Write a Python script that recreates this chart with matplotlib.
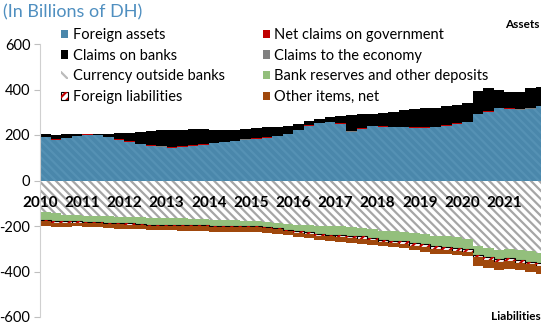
import numpy as np
import matplotlib.pyplot as plt
from matplotlib.patches import Patch

# Quarterly data, 2010Q1 - 2021Q4, billions of DH
foreign_assets = [190, 180, 185, 195, 202, 198, 190, 180,
                  170, 160, 152, 147, 145, 148, 152, 158,
                  163, 168, 172, 178, 183, 188, 195, 205,
                  220, 240, 252, 256, 250, 215, 228, 238,
                  236, 234, 233, 232, 232, 234, 240, 248,
                  258, 292, 302, 320, 316, 312, 314, 326]
net_claims_gov = [2, 2, 1, 2, 2, 2, 2, 2,
                  2, 2, 2, 2, 2, 2, 2, 2,
                  -2, 2, 1, 2, 2, 2, 2, 1,
                  -2, 2, -3, 2, 2, -2, 2, 2,
                  2, 2, 2, 2, 2, -3, 2, 3,
                  -3, 2, 2, -3, 2, -2, 2, 2]
claims_economy = [0.5] * 48
claims_on_banks = [13, 16, 16, 7, 1, 4, 13, 25,
                   38, 52, 64, 71, 75, 73, 70, 65,
                   58, 52, 50, 46, 45, 43, 39, 33,
                   28, 20, 18, 22, 33, 71, 61, 51,
                   58, 66, 73, 79, 84, 85, 83, 80,
                   80, 101, 104, 78, 70, 76, 89, 82]

# liabilities (plotted below zero)
currency = [137, 145, 150, 152, 155, 158, 158, 160,
            160, 162, 163, 164, 165, 167, 168, 170,
            172, 173, 175, 178, 180, 183, 186, 190,
            193, 196, 198, 200, 202, 204, 210, 215,
            222, 224, 226, 230, 235, 240, 245, 250,
            255, 290, 298, 302, 300, 305, 312, 318]
reserves = [38, 35, 30, 28, 27, 26, 27, 28,
            29, 30, 31, 30, 29, 28, 27, 27,
            27, 26, 24, 22, 21, 22, 24, 26,
            27, 30, 34, 38, 37, 36, 36, 37,
            38, 40, 42, 44, 46, 47, 48, 48,
            45, 36, 38, 40, 40, 42, 45, 44]
foreign_liab = [5] * 24 + [7, 7, 8, 8, 10, 10, 10, 10] + [12] * 16
other_items = [22, 20, 18, 17, 17, 16, 17, 18,
               18, 18, 19, 19, 19, 20, 20, 20,
               20, 21, 21, 22, 22, 20, 18, 18,
               18, 18, 20, 22, 22, 22, 22, 20,
               16, 16, 18, 20, 20, 20, 18, 18,
               18, 40, 38, 36, 36, 34, 34, 36]

years = list(range(2010, 2022))

c_blue = '#4a87ab'
c_red = '#c00000'
c_gray = '#808080'
c_green = '#93bf7c'
c_brown = '#a0480c'

plt.rcParams['font.family'] = ['Lato', 'DejaVu Sans']
plt.rcParams['axes.unicode_minus'] = False
plt.rcParams['hatch.linewidth'] = 1.6

fig = plt.figure(figsize=(5.44, 3.25), dpi=100)
ax = fig.add_axes([40 / 544, 8 / 325, 501 / 544, 273 / 325])

x = 2010 + np.arange(48) * 0.25
w = 0.25
fa = np.array(foreign_assets, float)
gov = np.array(net_claims_gov, float)
eco = np.array(claims_economy, float)
cob = np.array(claims_on_banks, float)

# assets
pos = np.zeros(48)
ax.bar(x, fa, w, bottom=pos, align='edge', color=c_blue, edgecolor='#5591b4',
       hatch='\\\\\\\\', linewidth=0)
pos += fa
gp = np.clip(gov, 0, None)
ax.bar(x, gp, w, bottom=pos, align='edge', color=c_red, linewidth=0)
pos += gp
ax.bar(x, eco, w, bottom=pos, align='edge', color=c_gray, linewidth=0)
pos += eco
ax.bar(x, cob, w, bottom=pos, align='edge', color='black', linewidth=0)

# liabilities
neg = np.clip(gov, None, 0)
ax.bar(x, neg, w, align='edge', color=c_red, linewidth=0)
base = neg.copy()
cur = -np.array(currency, float)
ax.bar(x, cur, w, bottom=base, align='edge', color='white', edgecolor='#a6a6a6',
       hatch='\\\\\\\\', linewidth=0)
base += cur
res = -np.array(reserves, float)
ax.bar(x, res, w, bottom=base, align='edge', color=c_green, linewidth=0)
base += res
fl = -np.array(foreign_liab, float)
ax.bar(x, fl, w, bottom=base, align='edge', color='white', edgecolor='black',
       linewidth=0.8)
ax.bar(x, fl, w, bottom=base, align='edge', color='none', edgecolor=c_red,
       hatch='////', linewidth=0)
base += fl
oth = -np.array(other_items, float)
ax.bar(x, oth, w, bottom=base, align='edge', color=c_brown, linewidth=0)

ax.set_xlim(2010, 2021.87)
ax.set_ylim(-600, 600)
ax.set_yticks(np.arange(-600, 601, 200))
ax.set_xticks([])
ax.tick_params(axis='y', colors='#bfbfbf', labelcolor='black', labelsize=10.5,
               length=4, width=0.8, pad=3)
for s in ['top', 'right', 'bottom']:
    ax.spines[s].set_visible(False)
ax.spines['left'].set_color('#d0d0d0')

for yr in years:
    ax.text(yr, -97, str(yr), ha='center', va='center', fontsize=11,
            fontweight='bold')

fig.text(3 / 544, 1 - 12 / 325, '(In Billions of DH)', color='#4f8fc0',
         fontsize=13, ha='left', va='center')
fig.text(540 / 544, 1 - 25 / 325, 'Assets', fontsize=8.5, fontweight='bold',
         ha='right', va='center')
fig.text(541 / 544, 1 - 316 / 325, 'Liabilities', fontsize=8.5,
         fontweight='bold', ha='right', va='center')

fl_handle = (Patch(facecolor='white', edgecolor='black', linewidth=0.8),
             Patch(facecolor='none', edgecolor=c_red, hatch='////', linewidth=0))
handles = [
    Patch(facecolor=c_blue),
    Patch(facecolor='black'),
    Patch(facecolor='white', edgecolor='#bbbbbb', hatch='\\\\\\', linewidth=0),
    fl_handle,
    Patch(facecolor=c_red),
    Patch(facecolor=c_gray),
    Patch(facecolor=c_green),
    Patch(facecolor=c_brown),
]
labels = ['Foreign assets', 'Claims on banks', 'Currency outside banks',
          'Foreign liabilities', 'Net claims on government',
          'Claims to the economy', 'Bank reserves and other deposits',
          'Other items, net']
fig.legend(handles, labels, ncol=2, loc='upper left',
           bbox_to_anchor=(61 / 544, 1 - 28 / 325), frameon=False,
           fontsize=10.5, handlelength=0.5, handleheight=0.5,
           handletextpad=0.3, columnspacing=2.6, labelspacing=0.46,
           borderpad=0, borderaxespad=0)

fig.savefig('out.png', dpi=100)
